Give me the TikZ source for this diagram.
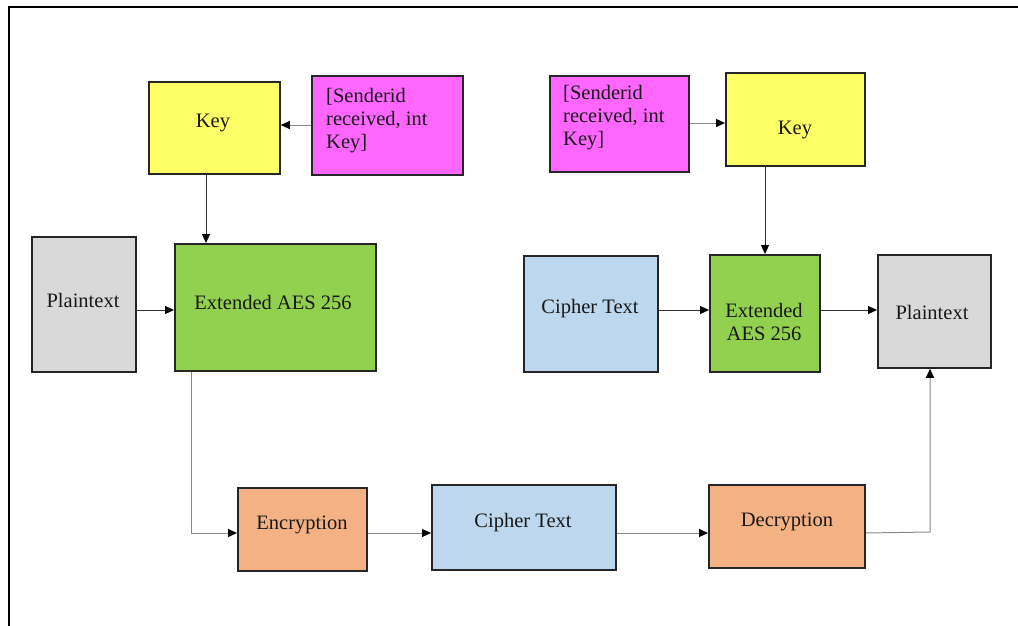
\documentclass[tikz,border=0pt]{standalone}
\usepackage{fontspec}
\setmainfont{Liberation Serif}
\usetikzlibrary{arrows.meta}
\definecolor{keyyellow}{HTML}{FFFF66}
\definecolor{idmagenta}{HTML}{FF66FF}
\definecolor{plaingray}{HTML}{D9D9D9}
\definecolor{aesgreen}{HTML}{92D050}
\definecolor{cipherblue}{HTML}{BDD7EE}
\definecolor{cryptorange}{HTML}{F4B183}
\definecolor{boxedge}{HTML}{262626}
\definecolor{wire}{HTML}{8A8A8A}
\begin{document}
\begin{tikzpicture}[x=1pt,y=-1pt,
  blk/.style={draw=boxedge,line width=1.8pt,inner sep=0pt,anchor=north west},
  lbl/.style={inner sep=0pt,text=black!90,font=\fontsize{20.5}{23}\selectfont},
  idlbl/.style={lbl,align=left,anchor=north west},
  arr/.style={draw=wire,line width=1pt,-{Triangle[black,length=9pt,width=8pt]}},
  darr/.style={arr,draw=black!80}]
\useasboundingbox (0,0) rectangle (1018,626);
% outer frame (only the top and left edges are in view)
\draw[line width=2pt] (8.5,640) -- (8.5,7.5) -- (1030,7.5);

% ---- encryption side ----
\node[blk,fill=keyyellow,minimum width=131pt,minimum height=92pt] (keyL) at (148,81) {};
\node[lbl] (keyLt) at (213,123) {Key};
\node[blk,fill=idmagenta,minimum width=151pt,minimum height=99pt] (idL) at (311,75) {};
\node[idlbl] (idLt) at (326,88) {[Senderid\\received, int\\Key]};
\node[blk,fill=plaingray,minimum width=104pt,minimum height=135pt] (ptL) at (31,236) {};
\node[lbl] (ptLt) at (83,300) {Plaintext};
\node[blk,fill=aesgreen,minimum width=201pt,minimum height=127pt] (aesL) at (174,243) {};
\node[lbl] (aesLt) at (273,302) {Extended AES 256};

% ---- decryption side ----
\node[blk,fill=idmagenta,minimum width=139pt,minimum height=96pt] (idR) at (549,75) {};
\node[idlbl] (idRt) at (563,85) {[Senderid\\received, int\\Key]};
\node[blk,fill=keyyellow,minimum width=139pt,minimum height=93pt] (keyR) at (725,72) {};
\node[lbl] (keyRt) at (795,130) {Key};
\node[blk,fill=cipherblue,minimum width=134pt,minimum height=116pt] (ctR) at (523,255) {};
\node[lbl] (ctRt) at (590,309) {Cipher Text};
\node[blk,fill=aesgreen,minimum width=110pt,minimum height=117pt] (aesR) at (709,254) {};
\node[lbl,align=center] (aesRt) at (764,322) {Extended\\AES 256};
\node[blk,fill=plaingray,minimum width=113pt,minimum height=113pt] (ptR) at (877,254) {};
\node[lbl] (ptRt) at (932,312) {Plaintext};

% ---- transmission row ----
\node[blk,fill=cryptorange,minimum width=129pt,minimum height=83pt] (enc) at (237,487) {};
\node[lbl] (enct) at (302,525) {Encryption};
\node[blk,fill=cipherblue,minimum width=184pt,minimum height=85pt] (ctM) at (431,484) {};
\node[lbl] (ctMt) at (523,523) {Cipher Text};
\node[blk,fill=cryptorange,minimum width=156pt,minimum height=83pt] (dec) at (708,484) {};
\node[lbl] (dect) at (787,522) {Decryption};

\coordinate (turnL) at (191,533);
\coordinate (turnR) at (930,532);

% ---- connectors ----
\draw[arr] (idL.west |- 0,125) -- (keyL.east |- 0,125);
\draw[darr] (keyL.south -| 206,0) -- (aesL.north -| 206,0);
\draw[darr] (ptL.east |- 0,310) -- (aesL.west |- 0,310);
\draw[arr] (aesL.south -| turnL) -- (turnL) -- (enc.west |- turnL);
\draw[arr] (enc.east |- 0,533) -- (ctM.west |- 0,533);
\draw[arr] (ctM.east |- 0,533) -- (dec.west |- 0,533);
\draw[arr] (dec.east |- 0,533) -- (turnR) -- (ptR.south -| turnR);

\draw[arr] (idR.east |- 0,123) -- (keyR.west |- 0,123);
\draw[darr] (keyR.south -| 765,0) -- (aesR.north -| 765,0);
\draw[darr] (ctR.east |- 0,310) -- (aesR.west |- 0,310);
\draw[darr] (aesR.east |- 0,310) -- (ptR.west |- 0,310);
\end{tikzpicture}
\end{document}
